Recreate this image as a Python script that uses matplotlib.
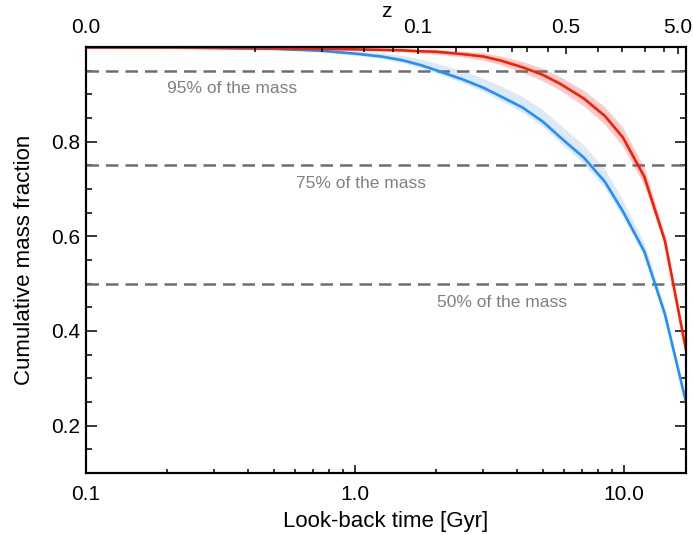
import numpy as np
import matplotlib
matplotlib.use('Agg')
import matplotlib.pyplot as plt

plt.rcParams['font.family'] = ['Liberation Sans', 'DejaVu Sans']

t_gyr = [0.1, 0.2, 0.3, 0.5, 0.75, 1.0, 1.25, 1.5, 1.75, 2.0, 2.5, 3.0, 3.5, 4.2, 5.0, 5.8, 7.1, 8.5, 9.9, 11.9, 14.2, 17.0]

# red curve + band
red = [0.999, 0.999, 0.998, 0.997, 0.996, 0.995, 0.994, 0.993, 0.991, 0.990, 0.985, 0.980, 0.971, 0.957, 0.941, 0.922, 0.891, 0.854, 0.809, 0.726, 0.590, 0.36]
red_lo = [0.998, 0.998, 0.997, 0.996, 0.995, 0.993, 0.991, 0.990, 0.987, 0.985, 0.979, 0.972, 0.962, 0.946, 0.928, 0.908, 0.875, 0.836, 0.790, 0.708, 0.580, 0.355]
red_hi = [1.0, 1.0, 0.999, 0.999, 0.998, 0.998, 0.997, 0.997, 0.995, 0.995, 0.991, 0.988, 0.981, 0.969, 0.955, 0.937, 0.908, 0.873, 0.830, 0.746, 0.602, 0.366]

# blue curve + band
blue = [0.999, 0.999, 0.998, 0.996, 0.992, 0.986, 0.980, 0.972, 0.962, 0.951, 0.932, 0.914, 0.895, 0.872, 0.842, 0.809, 0.766, 0.715, 0.653, 0.568, 0.435, 0.25]
blue_lo = [0.998, 0.998, 0.997, 0.995, 0.990, 0.983, 0.976, 0.967, 0.956, 0.945, 0.925, 0.906, 0.886, 0.862, 0.832, 0.798, 0.753, 0.702, 0.641, 0.557, 0.428, 0.245]
blue_hi = [1.0, 1.0, 0.999, 0.998, 0.996, 0.992, 0.988, 0.982, 0.975, 0.966, 0.950, 0.934, 0.917, 0.895, 0.867, 0.835, 0.792, 0.741, 0.676, 0.586, 0.447, 0.256]

# mass thresholds and their labels
levels = [0.95, 0.75, 0.5]
level_text = ['95% of the mass', '75% of the mass', '50% of the mass']
level_text_t = [0.35, 1.05, 3.53]
level_text_y = [0.913, 0.712, 0.460]

# bottom axis
xticks = [0.1, 1.0, 10.0]
xtick_labels = ['0.1', '1.0', '10.0']

# top axis (redshift), positions in Gyr
z_major_t = [0.1, 1.71, 6.07, 15.85]
z_major_labels = ['0.0', '0.1', '0.5', '5.0']
z_minor_t = [0.424, 0.752, 1.077, 1.39, 2.37, 3.11, 3.82, 4.35, 5.20, 7.98, 9.80, 11.93, 14.05]

yticks = [0.2, 0.4, 0.6, 0.8]

fig = plt.figure(figsize=(6.93, 5.35), dpi=100)
ax = fig.add_axes([86/693, 1-473/535, 600/693, 426/535])

ax.fill_between(t_gyr, red_lo, red_hi, color='#f9cccc', lw=0)
ax.fill_between(t_gyr, blue_lo, blue_hi, color='#dde8f8', lw=0)

for lev in levels:
    ax.axhline(lev, color='#6e6e6e', lw=1.8, ls=(0, (5.0, 2.8)), zorder=2)
for txt, tx, ty in zip(level_text, level_text_t, level_text_y):
    ax.text(tx, ty, txt, color='#808080', fontsize=12.5, ha='center', va='center')

ax.plot(t_gyr, blue, color='#1e90ff', lw=1.9, zorder=3)
ax.plot(t_gyr, red, color='#ff1a00', lw=1.9, zorder=3)

ax.set_xscale('log')
ax.set_xlim(0.1, 17.0)
ax.set_ylim(0.1, 1.0)
ax.set_xticks(xticks)
ax.set_xticklabels(xtick_labels)
ax.set_yticks(yticks)
ax.set_yticklabels(['%.1f' % v for v in yticks])
ax.yaxis.set_minor_locator(matplotlib.ticker.MultipleLocator(0.05))
ax.xaxis.set_minor_locator(matplotlib.ticker.LogLocator(base=10, subs=np.arange(2, 10)))
ax.xaxis.set_minor_formatter(matplotlib.ticker.NullFormatter())

ax.tick_params(axis='x', which='major', direction='in', length=6, width=1.1, labelsize=15, pad=9, top=False)
ax.tick_params(axis='x', which='minor', direction='in', length=3, width=1.1, top=False)
ax.tick_params(axis='y', which='major', direction='in', length=8, width=1.1, labelsize=15, pad=4, right=True)
ax.tick_params(axis='y', which='minor', direction='in', length=4.5, width=1.1, right=True)
for s in ax.spines.values():
    s.set_linewidth(1.5)

ax.set_xlabel('Look-back time [Gyr]', fontsize=16, labelpad=5)
ax.set_ylabel('Cumulative mass fraction', fontsize=16, labelpad=12)

# redshift axis on top
ax2 = ax.twiny()
ax2.set_xscale('log')
ax2.set_xlim(ax.get_xlim())
ax2.set_xticks(z_major_t)
ax2.set_xticklabels(z_major_labels)
ax2.set_xticks(z_minor_t, minor=True)
ax2.xaxis.set_minor_formatter(matplotlib.ticker.NullFormatter())
ax2.tick_params(axis='x', which='major', direction='in', length=5, width=1.1, labelsize=15, pad=7)
ax2.tick_params(axis='x', which='minor', direction='in', length=3.5, width=1.1)
ax2.set_xlabel('z', fontsize=15, labelpad=1)
for s in ax2.spines.values():
    s.set_linewidth(1.5)

fig.savefig('out.png', dpi=100)
